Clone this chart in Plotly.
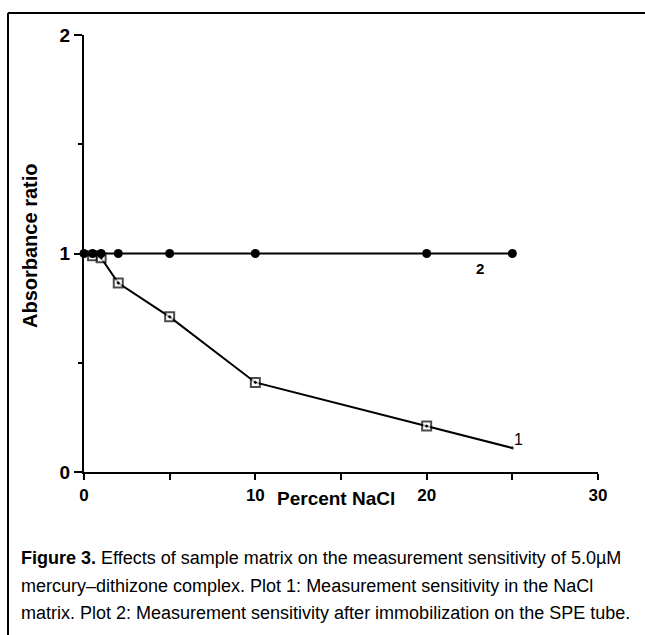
import plotly.graph_objects as go

# Data
nacl_pct_1 = [0, 0.5, 1, 2, 5, 10, 20, 25]
abs_ratio_1 = [1.0, 0.99, 0.98, 0.865, 0.71, 0.41, 0.21, 0.11]
nacl_pct_2 = [0, 0.5, 1, 2, 5, 10, 20, 25]
abs_ratio_2 = [1.0, 1.0, 1.0, 1.0, 1.0, 1.0, 1.0, 1.0]
x_ticks = [0, 10, 20, 30]
y_ticks = [0, 1, 2]
caption_lines = [
    "<b>Figure 3.</b> Effects of sample matrix on the measurement sensitivity of 5.0µM",
    "mercury–dithizone complex. Plot 1: Measurement sensitivity in the NaCl",
    "matrix. Plot 2: Measurement sensitivity after immobilization on the SPE tube.",
]

W, H = 645, 635
L, R, T, B = 84, 598, 35, 472  # plot area pixels
FONT = "Liberation Sans, Arial, sans-serif"


def px(q):
    return (q - L) / (R - L)


def py(p):
    return (B - p) / (B - T)


fig = go.Figure()

# series 1: open squares with dot, no marker on first and last points
sizes1 = [0] + [9] * (len(nacl_pct_1) - 2) + [0]
fig.add_trace(go.Scatter(
    x=nacl_pct_1, y=abs_ratio_1, mode="lines+markers",
    line=dict(color="black", width=2),
    marker=dict(symbol="square-dot", size=sizes1, color="white",
                line=dict(color="black", width=2)),
    cliponaxis=False, showlegend=False,
))
# series 2: filled circles
fig.add_trace(go.Scatter(
    x=nacl_pct_2, y=abs_ratio_2, mode="lines+markers",
    line=dict(color="black", width=2),
    marker=dict(symbol="circle", size=9, color="black"),
    cliponaxis=False, showlegend=False,
))

fig.update_xaxes(
    range=[0, 30], tickvals=x_ticks, ticktext=[str(v) for v in x_ticks],
    showline=True, linecolor="black", linewidth=2, showgrid=False, zeroline=False,
    ticks="outside", ticklen=6, tickwidth=2, tickcolor="black",
    minor=dict(dtick=5, ticks="outside", ticklen=6, tickwidth=2, tickcolor="black", showgrid=False),
    tickfont=dict(family=FONT, size=17, color="black", weight="bold"),
    ticklabelstandoff=1,
)
fig.update_yaxes(
    range=[0, 2], tickvals=y_ticks, ticktext=[str(v) for v in y_ticks],
    showline=True, linecolor="black", linewidth=2, showgrid=False, zeroline=False,
    ticks="outside", ticklen=8, tickwidth=2, tickcolor="black",
    minor=dict(dtick=0.5, ticks="outside", ticklen=4, tickwidth=2, tickcolor="black", showgrid=False),
    tickfont=dict(family=FONT, size=19, color="black", weight="bold"),
)

annotations = [
    dict(text="<b>Absorbance ratio</b>", x=px(30), y=py(246), xref="paper", yref="paper",
         textangle=-90, showarrow=False, xanchor="center", yanchor="middle",
         font=dict(family=FONT, size=20, color="black")),
    dict(text="<b>Percent NaCl</b>", x=px(336), y=py(499), xref="paper", yref="paper",
         showarrow=False, xanchor="center", yanchor="middle",
         font=dict(family=FONT, size=19, color="black")),
    dict(text="<b>2</b>", x=23.1, y=0.93, xref="x", yref="y", showarrow=False,
         font=dict(family=FONT, size=15, color="black")),
    dict(text="1", x=25.35, y=0.15, xref="x", yref="y", showarrow=False,
         font=dict(family=FONT, size=16, color="black")),
]
for i, line in enumerate(caption_lines):
    annotations.append(dict(
        text=line, x=px(19), y=py(558 + 27.5 * i), xref="paper", yref="paper",
        showarrow=False, xanchor="left", yanchor="middle", align="left",
        font=dict(family=FONT, size=18, color="black"),
    ))

shapes = [
    dict(type="line", xref="paper", yref="paper", x0=px(8), x1=px(645), y0=py(13), y1=py(13),
         line=dict(color="black", width=2)),
    dict(type="line", xref="paper", yref="paper", x0=px(8), x1=px(8), y0=py(13), y1=py(640),
         line=dict(color="black", width=2)),
]

fig.update_layout(
    width=W, height=H,
    margin=dict(l=L, r=W - R, t=T, b=H - B, autoexpand=False),
    paper_bgcolor="white", plot_bgcolor="white",
    annotations=annotations, shapes=shapes,
)

fig.write_html("out.html")
